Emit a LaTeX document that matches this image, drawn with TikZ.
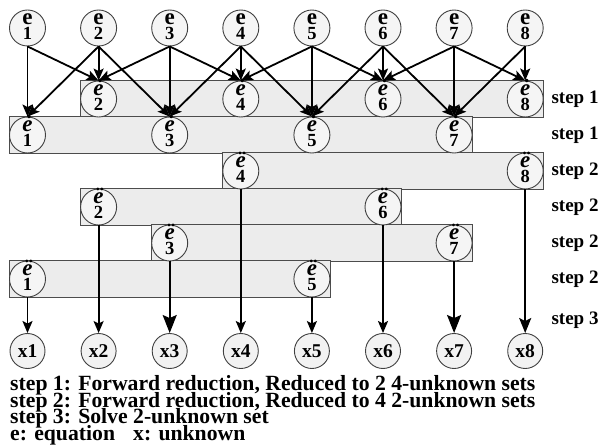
\documentclass[tikz,border=0pt]{standalone}
\usepackage{fontspec}
\setmainfont{Liberation Serif}
\usetikzlibrary{arrows.meta,backgrounds}
\newcommand\eqstack[2]{\vbox{\baselineskip=15.5pt\lineskiplimit=-20pt\halign{\hfil##\hfil\cr
  \fontsize{23}{23}\selectfont #1\cr\fontsize{18.5}{18.5}\selectfont\upshape #2\cr}}}
\begin{document}
\begin{tikzpicture}[x=1pt,y=-1pt,
  eq/.style={circle, draw=black!75, line width=0.9pt, fill=gray!8, minimum size=36pt,
    inner sep=0pt, text height=23.5pt, text depth=0pt, font=\bfseries},
  xn/.style={circle, draw=black!75, line width=0.9pt, fill=gray!10, minimum size=35pt,
    inner sep=0pt, font=\fontsize{19.5}{19.5}\selectfont\bfseries},
  bar/.style={draw=black!70, line width=0.9pt, fill=gray!15},
  arr/.style={line width=1.8pt, -{Stealth[length=12pt,width=10pt,inset=2.5pt]}},
  bigarr/.style={line width=2pt, -{Stealth[length=18pt,width=14pt,inset=3pt]}},
  midarr/.style={line width=1.9pt, -{Stealth[length=15pt,width=12pt,inset=3pt]}},
  steplab/.style={anchor=west, font=\fontsize{19}{19}\selectfont\bfseries},
  legend/.style={anchor=base west, inner sep=0pt, font=\fontsize{21.7}{21.7}\selectfont\bfseries}]
\useasboundingbox (0,0) rectangle (600,446);
% top row
\foreach \i in {1,...,8}
  \node[eq] (t\i) at ({27.5+71.1*(\i-1)},28) {\eqstack{e}{\i}};
% step 1 rows
\foreach \i in {2,4,6,8}
  \node[eq] (a\i) at ({27.5+71.1*(\i-1)},99) {\eqstack{\itshape\.{e}}{\i}};
\foreach \i in {1,3,5,7}
  \node[eq] (a\i) at ({27.5+71.1*(\i-1)},135) {\eqstack{\itshape\.{e}}{\i}};
% step 2 rows
\foreach \i/\y in {4/171,8/171,2/207,6/207,3/243,7/243,1/279,5/279}
  \node[eq] (b\i) at ({27.5+71.1*(\i-1)},\y) {\eqstack{\itshape\"{e}}{\i}};
% unknowns
\foreach \i in {1,...,8}
  \node[xn] (x\i) at ({27.5+71.1*(\i-1)},351) {x\i};
% bars
\begin{scope}[on background layer]
  \draw[bar] (a2.west |- a2.north) rectangle (a8.east |- a8.south);
  \draw[bar] (a1.west |- a1.north) rectangle (a7.east |- a7.south);
  \draw[bar] (b4.west |- b4.north) rectangle (b8.east |- b8.south);
  \draw[bar] (b2.west |- b2.north) rectangle (b6.east |- b6.south);
  \draw[bar] (b3.west |- b3.north) rectangle (b7.east |- b7.south);
  \draw[bar] (b1.west |- b1.north) rectangle (b5.east |- b5.south);
\end{scope}
% forward reduction arrows
\foreach \s/\d in {1/1,1/2, 2/1,2/2,2/3, 3/2,3/3,3/4, 4/3,4/4,4/5, 5/4,5/5,5/6,
                   6/5,6/6,6/7, 7/6,7/7,7/8, 8/7,8/8}
  \draw[arr] (t\s.south) -- (a\d.north);
% solve arrows
\foreach \i in {1,2,4,5,6}
  \draw[arr] (b\i.south) -- (x\i.north);
\foreach \i in {3,7}
  \draw[bigarr] (b\i.south) -- (x\i.north);
\draw[midarr] (b8.south) -- (x8.north);
% step labels
\node[steplab] (s1) at (548,99) {step 1};
\node[steplab] (s2) at (548,135) {step 1};
\node[steplab] (s3) at (548,171) {step 2};
\node[steplab] (s4) at (548,207) {step 2};
\node[steplab] (s5) at (548,243) {step 2};
\node[steplab] (s6) at (548,279) {step 2};
\node[steplab] (s7) at (548,320) {step 3};
% legend
\node[legend] (l1) at (10,391) {step 1: Forward reduction, Reduced to 2 4-unknown sets};
\node[legend] (l2) at (10,407) {step 2: Forward reduction, Reduced to 4 2-unknown sets};
\node[legend] (l3) at (10,424) {step 3: Solve 2-unknown set};
\node[legend] (l4) at (10,440) {e: equation};
\node[legend] (l5) at (133,440) {x: unknown};
\end{tikzpicture}
\end{document}
